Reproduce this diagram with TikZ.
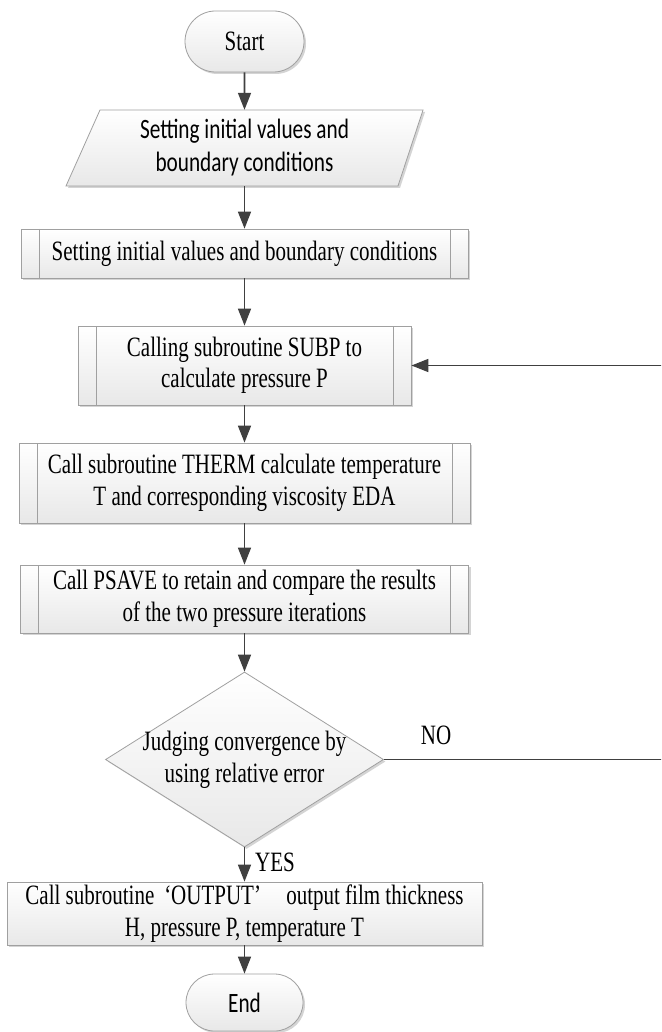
\documentclass[tikz,border=0pt]{standalone}
\usepackage{fontspec}
\setmainfont{Liberation Serif}[FakeStretch=0.75]
\newfontfamily\calibrifont{Carlito}[FakeStretch=0.76]
\usetikzlibrary{arrows.meta,shapes.misc,shapes.geometric,shadows}
\definecolor{edgegray}{HTML}{A0A0A0}
\definecolor{arrowgray}{HTML}{404040}
\definecolor{shadegray}{HTML}{E8E8E8}
\definecolor{shadowgray}{HTML}{D4D4D4}
\tikzset{
  base/.style={draw=edgegray, line width=0.8pt, top color=white, bottom color=shadegray,
    drop shadow={shadow xshift=2pt, shadow yshift=-2pt, fill=shadowgray, opacity=1},
    align=center, inner sep=0pt, font=\fontsize{28}{31.5}\selectfont},
  term/.style={base, rounded rectangle},
  procbox/.style={base, rectangle},
  subbox/.style={base, rectangle, path picture={
    \draw[edgegray, line width=0.8pt]
      ([xshift=18pt]path picture bounding box.north west) -- ([xshift=18pt]path picture bounding box.south west)
      ([xshift=-18pt]path picture bounding box.north east) -- ([xshift=-18pt]path picture bounding box.south east);}},
  flow/.style={draw=arrowgray, line width=1.6pt, -{Triangle[length=17pt,width=13pt]}},
  lbl/.style={font=\fontsize{28}{32}\selectfont, inner sep=0pt, align=center},
}
\begin{document}
\begin{tikzpicture}[x=1pt, y=-1pt]
\clip (0,0) rectangle (661,1032);
\fill[white] (0,0) rectangle (661,1032);

% start terminal
\node[term, minimum width=119pt, minimum height=61pt] (start) at (244.5,41.5) {Start};

% input parallelogram
\path[base] (100,110) -- (423,110) -- (398,186) -- (66,186) -- cycle;
\node[inner sep=0pt, minimum width=300pt, minimum height=76pt, align=center,
      font=\calibrifont\fontsize{28}{33}\selectfont] (init) at (244.5,148)
      {Setting initial values and\\boundary conditions};

% subroutine boxes
\node[subbox, minimum width=447pt, minimum height=49pt] (set) at (244.5,253.5)
  {Setting initial values and boundary conditions};
\node[subbox, minimum width=333pt, minimum height=79pt] (subp) at (244.5,365.5)
  {Calling subroutine SUBP to\\calculate pressure P};
\node[subbox, minimum width=451pt, minimum height=80pt] (therm) at (244.5,483)
  {Call subroutine THERM calculate temperature\\T and corresponding viscosity EDA};
\node[subbox, minimum width=448pt, minimum height=68pt] (psave) at (244.5,599)
  {Call PSAVE to retain and compare the results\\of the two pressure iterations};

% convergence test
\node[base, diamond, minimum width=278pt, minimum height=175pt] (judge) at (244.5,759.5) {};
\node[lbl] (judgetext) at (judge.center) {Judging convergence by\\using relative error};

% output
\node[procbox, minimum width=475pt, minimum height=63pt] (out) at (244.5,913.5)
  {Call subroutine \,‘OUTPUT’\hspace{0.9em}output film thickness\\H, pressure P, temperature T};

% end terminal
\node[term, minimum width=117pt, minimum height=57pt, font=\calibrifont\fontsize{28}{31.5}\selectfont]
  (stop) at (244.5,1002.5) {End};

% connectors
\draw[flow] (start) -- (init);
\draw[flow] (init) -- (set);
\draw[flow] (set) -- (subp);
\draw[flow] (subp) -- (therm);
\draw[flow] (therm) -- (psave);
\draw[flow] (psave) -- (judge);
\draw[flow] (judge) -- (out);
\draw[flow] (out) -- (stop);

% iteration loop
\coordinate (loopbot) at (664,759.5);
\coordinate (looptop) at (664,365.5);
\draw[flow] (judge.east) -- (loopbot) -- (looptop) -- (subp.east);

% branch labels
\node[lbl, anchor=west] (yes) at (255,862) {YES};
\node[lbl] (no) at (436,735) {NO};
\end{tikzpicture}
\end{document}
